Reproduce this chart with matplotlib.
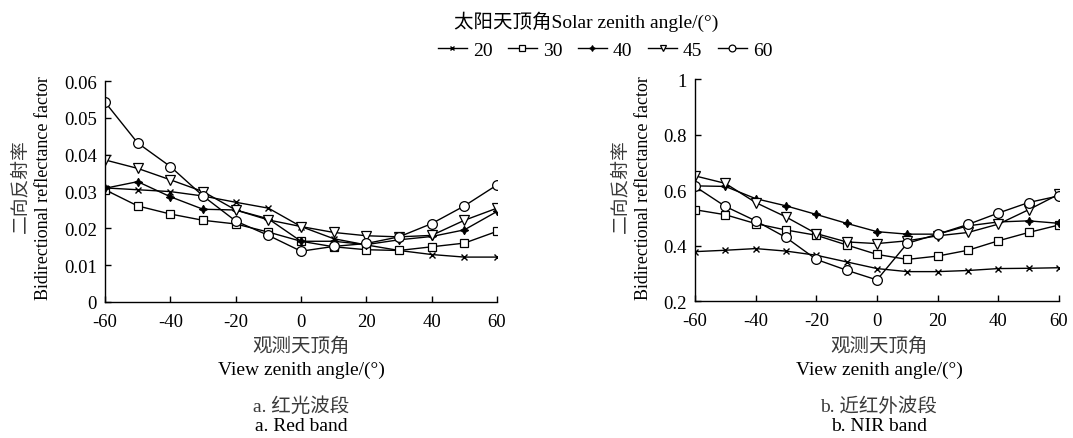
import matplotlib
matplotlib.use("Agg")
import matplotlib.pyplot as plt

plt.rcParams['font.family'] = ['Liberation Serif', 'Noto Sans CJK SC']
plt.rcParams['axes.unicode_minus'] = False

view_angles = [-60, -50, -40, -30, -20, -10, 0, 10, 20, 30, 40, 50, 60]
solar_labels = ['20', '30', '40', '45', '60']

red_20 = [0.0310, 0.0305, 0.0300, 0.0288, 0.0271, 0.0255, 0.0205, 0.0172, 0.0155, 0.0140, 0.0129, 0.0122, 0.0122]
red_30 = [0.0305, 0.0261, 0.0239, 0.0222, 0.0212, 0.0190, 0.0165, 0.0150, 0.0142, 0.0140, 0.0150, 0.0160, 0.0192]
red_40 = [0.0309, 0.0327, 0.0286, 0.0252, 0.0250, 0.0226, 0.0165, 0.0165, 0.0156, 0.0169, 0.0178, 0.0196, 0.0246]
red_45 = [0.0386, 0.0363, 0.0332, 0.0300, 0.0250, 0.0223, 0.0205, 0.0189, 0.0180, 0.0177, 0.0181, 0.0222, 0.0255]
red_60 = [0.0543, 0.0432, 0.0368, 0.0288, 0.0220, 0.0181, 0.0138, 0.0151, 0.0159, 0.0177, 0.0213, 0.0261, 0.0318]

nir_20 = [0.378, 0.383, 0.389, 0.380, 0.365, 0.341, 0.317, 0.306, 0.306, 0.310, 0.317, 0.318, 0.320]
nir_30 = [0.529, 0.511, 0.479, 0.456, 0.437, 0.402, 0.368, 0.350, 0.362, 0.383, 0.417, 0.447, 0.474]
nir_40 = [0.615, 0.613, 0.569, 0.543, 0.512, 0.480, 0.450, 0.441, 0.441, 0.471, 0.485, 0.489, 0.480]
nir_45 = [0.651, 0.624, 0.555, 0.503, 0.443, 0.413, 0.407, 0.417, 0.435, 0.447, 0.477, 0.529, 0.585]
nir_60 = [0.613, 0.541, 0.489, 0.429, 0.350, 0.311, 0.276, 0.408, 0.441, 0.476, 0.517, 0.555, 0.579]

red_series = [red_20, red_30, red_40, red_45, red_60]
nir_series = [nir_20, nir_30, nir_40, nir_45, nir_60]

styles = [
    dict(marker='x', ms=4, mew=1.0, mfc='black'),
    dict(marker='s', ms=5.5, mew=0.9, mfc='white'),
    dict(marker=(4, 1, 0), ms=6, mew=0.8, mfc='black'),
    dict(marker='v', ms=7, mew=0.9, mfc='white'),
    dict(marker='o', ms=7, mew=0.9, mfc='white'),
]

FS = 14
FS_YLAB = 13
FS_TICK = 13.5
FS_CJK = 14
CJK_COLOR = '#3a3a3a'

fig = plt.figure(figsize=(10.73, 4.39), dpi=100)
ax1 = fig.add_axes([0.0979, 0.3098, 0.3653, 0.503])
ax2 = fig.add_axes([0.6477, 0.3120, 0.3392, 0.5057])

handles = []
for ax, series in ((ax1, red_series), (ax2, nir_series)):
    for vals, st, lab in zip(series, styles, solar_labels):
        h, = ax.plot(view_angles, vals, color='black', lw=1.0, mec='black', label=lab, **st)
        if ax is ax1:
            handles.append(h)
    for s in ('top', 'right'):
        ax.spines[s].set_visible(False)
    ax.spines['left'].set_linewidth(1.0)
    ax.spines['bottom'].set_linewidth(1.0)
    ax.set_xlim(-60, 60)
    ax.set_xticks([-60, -40, -20, 0, 20, 40, 60])
    ax.tick_params(direction='in', length=4, width=1.0, labelsize=FS_TICK)
    ax.tick_params(axis='x', pad=8)
    ax.tick_params(axis='y', pad=6)

ax1.set_ylim(0, 0.06)
ax1.set_yticks([0, 0.01, 0.02, 0.03, 0.04, 0.05, 0.06])
ax1.set_yticklabels(['0', '0.01', '0.02', '0.03', '0.04', '0.05', '0.06'])
ax2.set_ylim(0.2, 1.0)
ax2.set_yticks([0.2, 0.4, 0.6, 0.8, 1.0])
ax2.set_yticklabels(['0.2', '0.4', '0.6', '0.8', '1'])

def W(x):
    return x / 1073.0

def H(y):
    return 1 - y / 439.0

for cx, cap_cn, cap_en in ((301, 'a. 红光波段', 'a. Red band'), (879, 'b. 近红外波段', 'b. NIR band')):
    fig.text(W(cx), H(347), '观测天顶角', ha='center', va='center', fontsize=FS_CJK, color=CJK_COLOR)
    fig.text(W(cx), H(370), 'View zenith angle/(°)', ha='center', va='center', fontsize=FS)
    fig.text(W(cx), H(407), cap_cn, ha='center', va='center', fontsize=FS_CJK, color=CJK_COLOR)
    fig.text(W(cx), H(427), cap_en, ha='center', va='center', fontsize=FS)

for xc, xe in ((21, 44), (621, 643)):
    fig.text(W(xc), H(186), '二向反射率', ha='center', va='center', rotation=90, fontsize=13.5, color=CJK_COLOR)
    fig.text(W(xe), H(188), 'Bidirectional reflectance factor', ha='center', va='center', rotation=90, fontsize=FS_YLAB)

fig.text(W(586), H(22), '太阳天顶角Solar zenith angle/(°)', ha='center', va='center', fontsize=FS)

leg = fig.legend(handles=handles, labels=solar_labels, loc='center', bbox_to_anchor=(W(605), H(51)),
                 ncol=5, frameon=False, fontsize=FS, handlelength=1.5, handletextpad=0.3,
                 columnspacing=0.8, borderpad=0.0)
for lh in leg.legend_handles:
    lh.set_markersize(lh.get_markersize() * 0.7)

fig.savefig('out.png', dpi=100, facecolor='white')
